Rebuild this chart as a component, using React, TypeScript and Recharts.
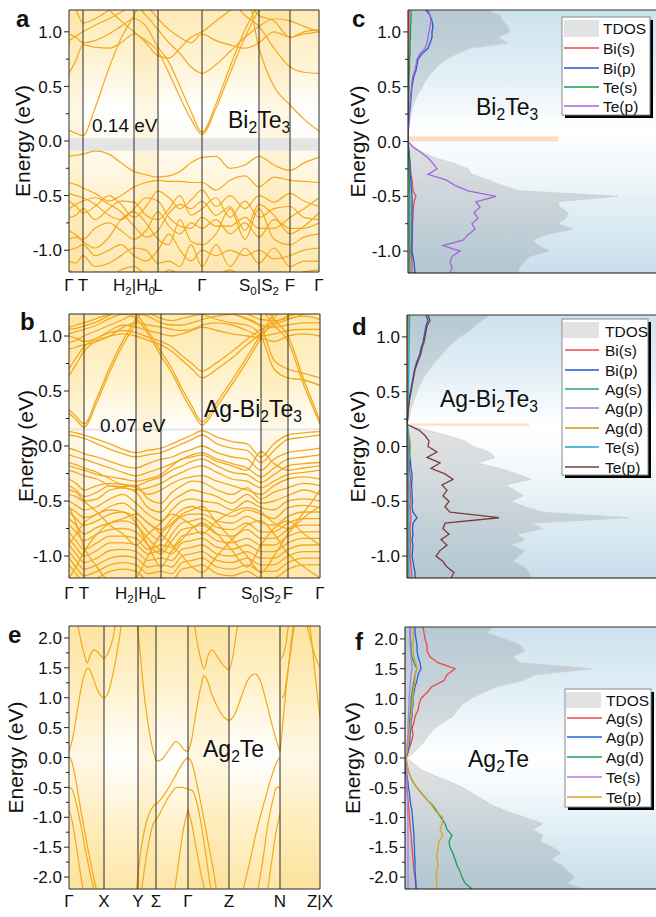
import React from 'react';
import {
  LineChart, Line, XAxis, YAxis, ReferenceLine, ReferenceArea, CartesianGrid, ComposedChart, Area,
} from 'recharts';

const FONT = '"Liberation Sans", Arial, Helvetica, sans-serif';
const ORANGE = '#F4A81C';
const FRAME = '#2b2b2b';

// ---------- common tick values ----------
const yTicksSmall = [-1.0, -0.75, -0.5, -0.25, 0, 0.25, 0.5, 0.75, 1.0];
const yTicksLarge = [-2.0, -1.75, -1.5, -1.25, -1.0, -0.75, -0.5, -0.25, 0, 0.25, 0.5, 0.75, 1.0, 1.25, 1.5, 1.75, 2.0];

// ---------- panel a: Bi2Te3 bands ----------
const kTicksA = [0, 14, 65, 89, 133, 190, 221, 250];
const kLabelsA = ['Γ', 'T', 'H2|H0', 'L', 'Γ', 'S0|S2', 'F', 'Γ'];
const kGridA = [0, 7, 14, 26, 40, 52, 65, 77, 89, 100, 111, 122, 133, 147, 161, 176, 190, 205, 221, 235, 250];
const bandsA: number[][] = [
  [0.10, 0.07, 0.05, 0.30, 0.67, 0.94, 1.15, 1.35, 1.4, 1.4, 1.4, 1.4, 1.4, 1.4, 1.4, 1.4, 1.4, 1.4, 1.4, 1.4, 1.4],
  [0.62, 0.74, 0.88, 0.86, 0.85, 0.90, 0.98, 0.92, 0.82, 0.62, 0.40, 0.20, 0.06, 0.30, 0.62, 0.95, 1.20, 1.35, 1.4, 1.4, 1.4],
  [0.98, 0.95, 0.90, 0.92, 0.98, 1.05, 1.12, 1.05, 0.86, 0.72, 0.50, 0.27, 0.08, 0.34, 0.68, 1.02, 1.25, 1.4, 1.4, 1.4, 1.4],
  [0.92, 0.96, 1.00, 1.06, 1.12, 1.18, 1.25, 1.15, 1.02, 0.90, 0.80, 0.68, 0.62, 0.70, 0.82, 0.95, 1.05, 1.12, 1.10, 1.05, 1.00],
  [1.30, 1.20, 1.08, 1.12, 1.20, 1.30, 1.35, 1.25, 1.12, 1.02, 0.95, 0.90, 0.98, 0.92, 0.88, 0.85, 0.90, 1.00, 0.95, 0.98, 1.00],
  [1.4, 1.4, 1.4, 1.4, 1.4, 1.4, 1.4, 1.4, 1.4, 1.4, 1.4, 1.4, 1.4, 1.4, 1.4, 1.4, 0.85, 0.50, 0.33, 0.20, 0.09],
  [1.4, 1.4, 1.4, 1.4, 1.4, 1.4, 1.4, 1.4, 1.4, 1.4, 1.4, 1.4, 1.4, 1.4, 1.3, 1.15, 1.05, 0.85, 0.68, 0.63, 0.62],
  [1.4, 1.4, 1.4, 1.4, 1.4, 1.4, 1.4, 1.4, 1.4, 1.4, 1.4, 1.4, 1.4, 1.4, 1.4, 1.3, 1.15, 1.10, 0.95, 1.00, 1.02],
  [1.4, 1.4, 1.4, 1.3, 1.2, 1.1, 1.0, 0.9, 0.78, 0.76, 0.85, 0.95, 1.0, 1.1, 1.2, 1.35, 1.4, 1.4, 1.4, 1.4, 1.4],
  [-0.14, -0.13, -0.12, -0.09, -0.12, -0.20, -0.28, -0.31, -0.33, -0.32, -0.28, -0.20, -0.15, -0.14, -0.25, -0.22, -0.14, -0.22, -0.27, -0.20, -0.15],
  [-0.38, -0.40, -0.43, -0.48, -0.55, -0.50, -0.42, -0.38, -0.36, -0.37, -0.37, -0.38, -0.38, -0.45, -0.36, -0.32, -0.42, -0.33, -0.36, -0.37, -0.38],
  [-0.55, -0.60, -0.66, -0.60, -0.50, -0.58, -0.70, -0.60, -0.46, -0.52, -0.62, -0.54, -0.45, -0.60, -0.50, -0.62, -0.50, -0.56, -0.48, -0.55, -0.60],
  [-0.70, -0.68, -0.62, -0.72, -0.62, -0.55, -0.56, -0.68, -0.72, -0.62, -0.50, -0.68, -0.62, -0.52, -0.70, -0.55, -0.70, -0.62, -0.60, -0.70, -0.72],
  [-0.82, -0.86, -0.90, -0.80, -0.75, -0.82, -0.90, -0.82, -0.65, -0.78, -0.85, -0.75, -0.80, -0.72, -0.85, -0.75, -0.88, -0.72, -0.80, -0.80, -0.75],
  [-0.90, -0.88, -0.92, -0.98, -0.88, -0.72, -0.65, -0.75, -0.90, -0.95, -0.72, -0.92, -0.95, -0.85, -0.62, -0.90, -0.62, -0.90, -0.95, -0.88, -0.85],
  [-1.00, -0.98, -0.95, -1.05, -1.00, -0.95, -1.05, -1.10, -1.00, -0.85, -1.00, -1.10, -1.00, -1.05, -1.00, -1.05, -1.00, -1.08, -1.05, -1.00, -0.98],
  [-1.10, -1.12, -1.05, -1.15, -1.12, -1.05, -0.98, -1.00, -1.12, -1.10, -1.15, -0.95, -1.15, -0.95, -1.15, -0.98, -1.12, -0.98, -1.15, -1.10, -1.10],
  [-1.18, -1.22, -1.25, -1.20, -1.25, -1.18, -1.15, -1.22, -1.25, -1.18, -1.22, -1.25, -1.20, -1.22, -1.18, -1.25, -1.22, -1.20, -1.25, -1.20, -1.18],
  [-0.48, -0.50, -0.52, -0.58, -0.68, -0.72, -0.62, -0.52, -0.55, -0.70, -0.78, -0.80, -0.70, -0.78, -0.78, -0.70, -0.80, -0.80, -0.70, -0.62, -0.52],
  [-0.62, -0.58, -0.55, -0.52, -0.58, -0.65, -0.78, -0.88, -0.82, -0.66, -0.58, -0.62, -0.55, -0.68, -0.60, -0.82, -0.58, -0.68, -0.85, -0.78, -0.66],
];

// ---------- panel b: Ag-Bi2Te3 bands ----------
const kTicksB = [0, 15, 67, 92, 133, 192, 219, 251];
const kLabelsB = ['Γ', 'T', 'H2|H0', 'L', 'Γ', 'S0|S2', 'F', 'Γ'];
const kGridB = [0, 7, 15, 28, 41, 54, 67, 79, 92, 103, 113, 123, 133, 148, 163, 178, 192, 205, 219, 235, 251];
const bandsB: number[][] = [
  [0.30, 0.24, 0.17, 0.40, 0.68, 0.92, 1.12, 1.35, 1.4, 1.4, 1.4, 1.4, 1.4, 1.4, 1.4, 1.4, 1.4, 1.4, 1.4, 1.4, 1.4],
  [0.33, 0.27, 0.20, 0.44, 0.72, 0.96, 1.16, 1.38, 1.4, 1.4, 1.4, 1.4, 1.4, 1.4, 1.4, 1.4, 1.4, 1.4, 1.4, 1.4, 1.4],
  [1.02, 1.04, 1.06, 1.10, 1.16, 1.20, 1.16, 1.02, 0.82, 0.66, 0.48, 0.32, 0.19, 0.36, 0.56, 0.77, 0.98, 1.16, 1.30, 1.4, 1.4],
  [1.06, 1.07, 1.09, 1.13, 1.19, 1.24, 1.20, 1.05, 0.86, 0.70, 0.52, 0.36, 0.22, 0.40, 0.60, 0.81, 1.02, 1.20, 1.35, 1.4, 1.4],
  [0.64, 0.74, 0.86, 0.96, 1.00, 1.02, 1.00, 0.96, 0.92, 0.86, 0.78, 0.70, 0.62, 0.70, 0.80, 0.92, 1.02, 1.10, 1.15, 1.20, 1.25],
  [0.70, 0.80, 0.90, 0.98, 1.03, 1.05, 1.03, 0.99, 0.95, 0.90, 0.82, 0.75, 0.68, 0.76, 0.86, 0.97, 1.06, 1.12, 1.18, 1.22, 1.28],
  [1.4, 1.4, 1.4, 1.4, 1.4, 1.4, 1.4, 1.4, 1.4, 1.4, 1.30, 1.25, 1.20, 1.15, 1.12, 1.10, 1.00, 0.70, 0.62, 0.60, 0.55],
  [1.4, 1.4, 1.4, 1.4, 1.4, 1.4, 1.4, 1.4, 1.4, 1.4, 1.4, 1.35, 1.30, 1.25, 1.20, 1.16, 1.08, 0.78, 0.70, 0.66, 0.62],
  [1.4, 1.4, 1.4, 1.4, 1.4, 1.4, 1.4, 1.4, 1.4, 1.4, 1.4, 1.4, 1.4, 1.4, 1.4, 1.35, 1.25, 1.10, 0.95, 0.55, 0.20],
  [1.4, 1.4, 1.4, 1.4, 1.4, 1.4, 1.4, 1.4, 1.4, 1.4, 1.4, 1.4, 1.4, 1.4, 1.4, 1.4, 1.30, 1.15, 1.00, 0.60, 0.23],
  [1.00, 0.98, 0.95, 0.98, 1.05, 1.10, 1.08, 1.05, 1.02, 1.00, 1.02, 1.05, 1.08, 1.05, 1.02, 1.00, 0.98, 0.95, 1.00, 1.02, 1.00],
  [0.88, 0.90, 0.92, 0.95, 1.00, 1.08, 1.12, 1.10, 1.08, 1.06, 1.05, 1.06, 1.10, 1.12, 1.10, 1.05, 1.00, 1.02, 1.05, 1.06, 1.06],
  [0.94, 0.96, 1.00, 1.05, 1.10, 1.15, 1.20, 1.18, 1.12, 1.10, 1.10, 1.12, 1.15, 1.18, 1.20, 1.15, 1.10, 1.08, 1.10, 1.12, 1.12],
  [1.08, 1.10, 1.12, 1.16, 1.20, 1.25, 1.30, 1.22, 1.16, 1.14, 1.16, 1.18, 1.20, 1.22, 1.25, 1.20, 1.15, 1.14, 1.16, 1.18, 1.15],
  [0.13, 0.12, 0.10, 0.06, 0.02, -0.03, -0.06, -0.04, -0.02, 0.02, 0.06, 0.10, 0.14, 0.08, 0.04, 0.02, -0.10, 0.02, 0.10, 0.12, 0.13],
  [0.10, 0.09, 0.07, 0.02, -0.03, -0.07, -0.10, -0.08, -0.06, -0.02, 0.02, 0.06, 0.10, 0.02, -0.02, -0.04, -0.15, -0.04, 0.06, 0.08, 0.10],
  [-0.02, -0.04, -0.07, -0.10, -0.14, -0.18, -0.20, -0.16, -0.12, -0.10, -0.06, -0.03, 0.00, -0.06, -0.10, -0.12, -0.22, -0.12, -0.06, -0.04, -0.02],
  [-0.08, -0.10, -0.12, -0.16, -0.20, -0.24, -0.27, -0.24, -0.20, -0.16, -0.12, -0.08, -0.06, -0.12, -0.16, -0.20, -0.28, -0.20, -0.12, -0.10, -0.08],
  [-0.15, -0.17, -0.20, -0.24, -0.30, -0.35, -0.36, -0.32, -0.28, -0.22, -0.18, -0.14, -0.12, -0.18, -0.24, -0.26, -0.33, -0.26, -0.18, -0.16, -0.15],
  [-0.22, -0.24, -0.27, -0.30, -0.36, -0.38, -0.40, -0.38, -0.34, -0.28, -0.24, -0.20, -0.18, -0.24, -0.30, -0.32, -0.38, -0.32, -0.26, -0.24, -0.22],
  [-0.30, -0.34, -0.40, -0.36, -0.34, -0.35, -0.38, -0.44, -0.40, -0.34, -0.30, -0.28, -0.27, -0.32, -0.36, -0.40, -0.44, -0.36, -0.30, -0.28, -0.30],
  [-0.36, -0.40, -0.46, -0.42, -0.36, -0.37, -0.36, -0.48, -0.52, -0.42, -0.36, -0.32, -0.33, -0.40, -0.44, -0.38, -0.48, -0.42, -0.38, -0.34, -0.36],
  [-0.44, -0.46, -0.50, -0.48, -0.40, -0.38, -0.42, -0.56, -0.60, -0.50, -0.44, -0.40, -0.42, -0.46, -0.52, -0.44, -0.52, -0.50, -0.45, -0.40, -0.44],
  [-0.50, -0.54, -0.58, -0.55, -0.48, -0.44, -0.52, -0.62, -0.68, -0.58, -0.50, -0.48, -0.50, -0.52, -0.58, -0.50, -0.56, -0.58, -0.50, -0.48, -0.50],
  [-0.56, -0.60, -0.65, -0.62, -0.55, -0.52, -0.60, -0.70, -0.76, -0.66, -0.58, -0.55, -0.58, -0.60, -0.64, -0.58, -0.62, -0.66, -0.56, -0.54, -0.56],
  [-0.60, -0.66, -0.72, -0.68, -0.62, -0.60, -0.66, -0.78, -0.86, -0.72, -0.64, -0.62, -0.62, -0.68, -0.70, -0.64, -0.70, -0.72, -0.64, -0.60, -0.60],
  [-0.66, -0.72, -0.80, -0.74, -0.70, -0.68, -0.72, -0.84, -0.94, -0.80, -0.70, -0.68, -0.66, -0.74, -0.76, -0.70, -0.78, -0.78, -0.70, -0.66, -0.66],
  [-0.72, -0.78, -0.86, -0.80, -0.76, -0.75, -0.78, -0.90, -0.98, -0.86, -0.76, -0.74, -0.72, -0.80, -0.82, -0.76, -0.84, -0.84, -0.76, -0.72, -0.72],
  [-0.78, -0.86, -0.94, -0.88, -0.82, -0.82, -0.84, -0.94, -0.90, -0.92, -0.82, -0.80, -0.78, -0.86, -0.88, -0.84, -0.90, -0.90, -0.82, -0.78, -0.78],
  [-0.84, -0.92, -1.00, -0.95, -0.88, -0.88, -0.90, -0.98, -0.95, -0.98, -0.88, -0.86, -0.84, -0.92, -0.94, -0.90, -0.96, -0.96, -0.88, -0.84, -0.84],
  [-0.90, -0.98, -1.06, -1.02, -0.95, -0.94, -0.96, -1.04, -1.02, -1.04, -0.94, -0.92, -0.90, -0.98, -1.00, -0.96, -1.02, -1.02, -0.94, -0.90, -0.90],
  [-0.96, -1.04, -1.12, -1.08, -1.02, -1.00, -1.02, -1.10, -1.08, -1.10, -1.00, -0.98, -0.96, -1.04, -1.06, -1.02, -1.08, -1.08, -1.00, -0.96, -0.96],
  [-1.02, -1.10, -1.18, -1.14, -1.08, -1.06, -1.08, -1.16, -1.14, -1.16, -1.06, -1.04, -1.02, -1.10, -1.12, -1.08, -1.14, -1.14, -1.06, -1.02, -1.02],
  [-1.08, -1.16, -1.24, -1.20, -1.14, -1.12, -1.14, -1.22, -1.20, -1.22, -1.12, -1.10, -1.08, -1.16, -1.18, -1.14, -1.20, -1.20, -1.12, -1.08, -1.08],
  [-0.55, -0.70, -0.92, -1.10, -1.25, -1.30, -1.20, -1.00, -0.80, -0.70, -0.62, -0.58, -0.55, -0.70, -0.85, -1.00, -1.15, -1.00, -0.80, -0.65, -0.55],
  [-0.90, -0.80, -0.70, -0.62, -0.58, -0.60, -0.70, -0.90, -1.10, -0.95, -0.85, -0.75, -0.70, -0.80, -0.95, -1.10, -0.90, -0.75, -0.68, -0.80, -0.90],
  [-1.20, -1.10, -0.96, -0.80, -0.70, -0.66, -0.62, -0.70, -0.80, -0.90, -1.00, -1.10, -1.15, -1.00, -0.85, -0.72, -0.68, -0.80, -0.98, -1.10, -1.20],
  [-0.40, -0.42, -0.50, -0.60, -0.72, -0.80, -0.90, -0.80, -0.70, -0.62, -0.66, -0.72, -0.80, -0.68, -0.60, -0.56, -0.60, -0.70, -0.75, -0.60, -0.40],
  [-0.18, -0.20, -0.22, -0.26, -0.28, -0.30, -0.32, -0.30, -0.26, -0.18, -0.12, -0.10, -0.08, -0.14, -0.18, -0.22, -0.05, -0.16, -0.22, -0.20, -0.18],
];

// ---------- panel e: Ag2Te bands (k, E) ----------
const kTicksE = [0, 35, 69, 87, 119, 160, 211, 251];
const kLabelsE = ['Γ', 'X', 'Y', 'Σ', 'Γ', 'Z', 'N', 'Z|X'];
const bandsE: number[][][] = [
  [[0, 0.1], [4, 0.35], [8, 0.75], [12, 1.15], [16, 1.42], [19, 1.5], [23, 1.38], [28, 1.15], [32, 1.03], [35, 1.0], [39, 1.08], [44, 1.4], [49, 1.85], [53, 2.3]],
  [[8, 2.3], [12, 1.95], [16, 1.68], [18, 1.58], [21, 1.7], [25, 1.8], [29, 1.76], [33, 1.68], [35, 1.66], [39, 1.75], [44, 2.0], [47, 2.3]],
  [[0, 0.02], [3, -0.08], [7, -0.4], [12, -0.9], [18, -1.45], [24, -1.95], [28, -2.25]],
  [[0, -0.5], [3, -0.53], [7, -0.75], [12, -1.15], [17, -1.6], [22, -2.0], [26, -2.3]],
  [[0, -0.88], [3, -1.05], [7, -1.45], [11, -1.9], [14, -2.2], [15, -2.3]],
  [[68.5, 2.3], [69, 2.15], [71.5, 1.7], [74, 1.23], [79, 0.57], [84, 0.12], [88, -0.06], [93, -0.03], [98, 0.08], [103, 0.2], [107, 0.27], [111, 0.22], [115, 0.13], [119, 0.1]],
  [[67, -2.3], [70, -1.8], [75, -1.25], [80, -0.95], [85, -0.8], [88, -0.77], [96, -0.6], [104, -0.38], [111, -0.17], [116, -0.04], [119, 0.0]],
  [[72, -2.3], [76, -1.8], [80, -1.4], [84, -1.12], [88, -1.02], [95, -0.8], [102, -0.6], [108, -0.5], [113, -0.5], [119, -0.53]],
  [[105, -2.3], [110, -1.7], [115, -1.15], [119, -0.88]],
  [[119, 0.1], [122, 0.25], [127, 0.75], [132, 1.2], [135, 1.37], [138, 1.3], [143, 1.05], [150, 0.8], [156, 0.66], [160, 0.62], [165, 0.7], [172, 1.0], [179, 1.3], [186, 1.4], [191, 1.3], [197, 0.95], [203, 0.55], [208, 0.25], [211, 0.1]],
  [[125, 2.3], [127, 2.05], [131, 1.7], [135, 1.48], [139, 1.7], [143, 1.8], [147, 1.72], [153, 1.57], [160, 1.47], [164, 1.7], [168, 2.15], [170, 2.3]],
  [[119, 0.0], [123, -0.1], [128, -0.45], [134, -0.95], [140, -1.5], [146, -2.05], [148, -2.3]],
  [[119, -0.53], [123, -0.55], [127, -0.7], [132, -1.1], [137, -1.65], [141, -2.1], [143, -2.3]],
  [[119, -0.88], [122, -1.05], [127, -1.5], [132, -1.95], [137, -2.3]],
  [[173, -2.3], [180, -1.8], [188, -1.2], [196, -0.7], [203, -0.3], [208, -0.07], [211, 0.0]],
  [[188, -2.3], [194, -1.7], [199, -1.1], [204, -0.7], [207, -0.52], [209, -0.49], [211, -0.52]],
  [[198, -2.3], [203, -1.7], [207, -1.25], [211, -0.95]],
  [[211, 0.1], [214, 0.6], [218, 1.3], [222, 1.9], [225, 2.3]],
  [[213, 1.0], [215, 1.05], [218, 1.35], [222, 1.8], [226, 2.3]],
  [[212, 1.65], [214, 1.7], [217, 1.9], [220, 2.3]],
  [[237, 2.3], [241, 2.0], [246, 1.7], [251, 1.5]],
  [[240, 2.3], [243, 1.9], [246, 1.4], [249, 0.95], [251, 0.68]],
];

// ---------- panels c, d: DOS (energy grid) ----------
const eCD = [1.2, 1.15, 1.1, 1.05, 1.0, 0.95, 0.9, 0.85, 0.8, 0.75, 0.7, 0.65, 0.6, 0.55, 0.5, 0.45, 0.4, 0.35, 0.3, 0.25, 0.2, 0.15, 0.1, 0.05, 0, -0.05, -0.1, -0.15, -0.2, -0.25, -0.3, -0.35, -0.4, -0.45, -0.5, -0.55, -0.6, -0.65, -0.7, -0.75, -0.8, -0.85, -0.9, -0.95, -1.0, -1.05, -1.1, -1.15, -1.2];

const tdosC = [80, 92, 95, 100, 102, 90, 100, 62, 49, 38, 31, 26, 21, 17, 14, 11, 8, 6, 4, 3, 2, 1, 0.5, 0.2, 0, 6, 15, 27, 46, 60, 64, 80, 93, 110, 210, 150, 152, 160, 158, 150, 165, 138, 125, 130, 142, 122, 116, 112, 110];
const biS_C = [1, 1, 1, 1, 1, 1, 1, 1, 1, 0.8, 0.8, 0.6, 0.6, 0.5, 0.5, 0.4, 0.4, 0.3, 0.3, 0.2, 0.2, 0.1, 0.1, 0.1, 0, 0.5, 1, 1.5, 2, 2.5, 3, 4, 4.5, 5, 8, 6, 5.5, 5, 5, 4.5, 4.5, 4, 4, 3.5, 3, 3.5, 4, 4, 4];
const biP_C = [18, 22, 24, 25, 24, 24, 22, 20, 14, 10, 9, 8, 6, 5, 4, 3.5, 3, 2.5, 2, 1.5, 1, 0.7, 0.4, 0.2, 0, 0.5, 1, 1.5, 2, 2, 2, 3, 3, 3.5, 4, 4, 4, 4, 4, 4, 4, 4, 4, 4, 4, 5, 6, 6.5, 7];
const teS_C = [3, 3, 3, 2.5, 2.5, 2.5, 2, 2, 2, 1.5, 1.5, 1.5, 1, 1, 1, 0.8, 0.8, 0.6, 0.5, 0.4, 0.3, 0.2, 0.1, 0.1, 0, 0.3, 0.5, 0.8, 1, 1, 1.2, 1.5, 1.5, 1.5, 1.8, 1.8, 1.8, 1.8, 1.8, 1.8, 1.8, 1.8, 1.8, 1.8, 1.8, 1.8, 1.8, 1.8, 1.8];
const teP_C = [20, 22, 23, 22, 21, 20, 19, 17, 12, 9, 8, 7, 5, 4, 3.5, 3, 2.5, 2, 1.5, 1, 0.8, 0.5, 0.3, 0.1, 0, 5, 13, 20, 25, 29, 20, 38, 47, 60, 88, 68, 72, 66, 70, 64, 67, 60, 55, 35, 52, 44, 42, 44, 42];

const tdosD = [82, 75, 68, 62, 53, 46, 40, 36, 31, 26, 22, 18, 15, 12, 10, 8, 6, 4, 3, 1.5, 0, 19, 40, 58, 66, 82, 88, 70, 92, 110, 124, 98, 108, 116, 104, 118, 136, 222, 124, 136, 110, 118, 104, 118, 112, 106, 118, 122, 124];
const biS_D = [0.8, 0.8, 0.8, 0.7, 0.7, 0.6, 0.6, 0.5, 0.5, 0.5, 0.4, 0.4, 0.3, 0.3, 0.3, 0.2, 0.2, 0.1, 0.1, 0.1, 0, 0.5, 1, 1.5, 1.5, 2, 2, 2.5, 2.5, 3, 3.5, 3, 3, 3.5, 3.5, 3, 3.5, 4, 3.5, 3, 3.5, 3, 3.5, 3, 3, 3.5, 4, 4.5, 4.5];
const biP_D = [19, 21, 19, 18, 17, 16, 14, 13, 11, 9, 7.5, 6.5, 5.5, 4.5, 3.5, 2.5, 2, 1.3, 0.8, 0.4, 0, 1, 1.5, 2, 2, 2.5, 3, 3.5, 4, 5, 5, 4.5, 5, 5, 5.5, 5, 6, 10, 6, 5.5, 6, 5, 6, 5.5, 5, 6, 7, 8, 8];
const agS_D = [0.6, 0.6, 0.6, 0.6, 0.6, 0.6, 0.5, 0.5, 0.5, 0.5, 0.5, 0.4, 0.4, 0.4, 0.4, 0.3, 0.3, 0.3, 0.2, 0.2, 0, 0.3, 0.4, 0.5, 0.5, 0.5, 0.6, 0.6, 0.6, 0.6, 0.7, 0.7, 0.7, 0.7, 0.7, 0.7, 0.7, 0.9, 0.7, 0.7, 0.7, 0.7, 0.7, 0.7, 0.7, 0.7, 0.7, 0.8, 0.8];
const agP_D = [0.5, 0.5, 0.5, 0.5, 0.4, 0.4, 0.4, 0.4, 0.4, 0.3, 0.3, 0.3, 0.3, 0.3, 0.2, 0.2, 0.2, 0.2, 0.1, 0.1, 0, 0.2, 0.3, 0.4, 0.4, 0.4, 0.5, 0.5, 0.5, 0.5, 0.5, 0.5, 0.5, 0.5, 0.5, 0.5, 0.5, 0.8, 0.5, 0.5, 0.5, 0.5, 0.5, 0.5, 0.5, 0.5, 0.5, 0.6, 0.6];
const agD_D = [0.8, 0.8, 0.8, 0.7, 0.7, 0.7, 0.6, 0.6, 0.6, 0.5, 0.5, 0.5, 0.4, 0.4, 0.4, 0.3, 0.3, 0.3, 0.2, 0.2, 0, 1.0, 2.0, 3.0, 3.5, 3.0, 2.5, 1.5, 1.2, 1.2, 1.2, 1.0, 1.0, 1.0, 1.0, 1.0, 1.2, 1.5, 1.0, 1.0, 1.0, 1.0, 1.0, 1.0, 1.0, 1.0, 1.0, 1.2, 1.2];
const teS_D = [2.5, 2.5, 2.5, 2.4, 2.3, 2.2, 2.1, 2, 2, 1.9, 1.8, 1.7, 1.6, 1.5, 1.4, 1.3, 1.2, 1.1, 1, 0.8, 0, 1, 1.3, 1.5, 1.5, 1.6, 1.6, 1.6, 1.7, 1.7, 1.7, 1.7, 1.7, 1.8, 1.8, 1.8, 1.8, 2, 1.8, 1.8, 1.8, 1.8, 1.8, 1.8, 1.8, 1.8, 1.8, 1.9, 1.9];
const teP_D = [21, 23, 20, 19, 18, 17, 15, 14, 12, 10, 8, 7, 6, 5, 4, 3, 2, 1.5, 1, 0.5, 0, 12, 18, 22, 21, 30, 20, 33, 24, 38, 46, 35, 40, 36, 42, 38, 43, 92, 38, 36, 42, 34, 40, 33, 29, 36, 40, 47, 44];

// ---------- panel f: Ag2Te DOS ----------
const eF = [2.2, 2.1, 2.0, 1.9, 1.8, 1.7, 1.6, 1.5, 1.4, 1.3, 1.2, 1.1, 1.0, 0.9, 0.8, 0.7, 0.6, 0.5, 0.4, 0.3, 0.2, 0.1, 0.0, -0.1, -0.2, -0.3, -0.4, -0.5, -0.6, -0.7, -0.8, -0.9, -1.0, -1.1, -1.2, -1.3, -1.4, -1.5, -1.6, -1.7, -1.8, -1.9, -2.0, -2.1, -2.2];
const tdosF = [88, 82, 100, 115, 120, 108, 115, 188, 130, 118, 92, 78, 66, 57, 52, 48, 38, 30, 24, 20, 15, 9, 2, 9, 16, 30, 45, 58, 68, 78, 88, 102, 120, 138, 128, 138, 135, 148, 156, 146, 157, 163, 170, 163, 178];
const agS_F = [18, 19, 20, 22, 22, 25, 33, 50, 42, 39, 27, 22, 16, 14, 13, 10, 9, 7, 8, 7, 5, 3, 1, 0.5, 0.5, 1, 1.5, 2, 2.5, 3, 3.5, 4, 4.5, 5, 5.5, 6, 6.5, 7, 7.5, 8, 8.5, 9, 10, 10.5, 11];
const agP_F = [10, 10, 11, 12, 12, 13, 15, 16, 13, 12, 10, 9, 8, 8, 7, 7, 6, 6, 5, 5, 4, 3, 1, 1, 1.5, 2, 3, 3.5, 4.5, 5, 6, 7, 7.5, 8, 8.5, 9, 9, 9.5, 9.5, 10, 10, 10, 10.5, 11, 11];
const agD_F = [5, 5, 5.5, 6, 6, 7, 9, 12, 10, 9, 8, 7, 6, 6, 5.5, 5, 4.5, 4, 3.5, 3, 2.5, 2, 1, 2, 3, 5, 8, 12, 17, 22, 28, 32, 36, 40, 42, 47, 44, 45, 48, 50, 52, 55, 57, 60, 67];
const teS_F = [5, 5, 5, 5, 5.5, 6, 6.5, 7, 6, 5.5, 5, 4.5, 4, 4, 3.5, 3.5, 3, 3, 3, 2.5, 2, 1.5, 1, 1, 1.5, 1.5, 2, 2, 2, 2.5, 2.5, 2.5, 3, 3, 3, 3, 3, 3, 3, 3, 3, 3, 3, 3, 3];
const teP_F = [8, 8, 8.5, 8, 8, 9, 11, 12, 10, 10, 9, 8, 8, 7, 7, 6, 5.5, 5, 4, 3.5, 3, 2, 1, 2, 3, 5, 8, 12, 17, 22, 27, 31, 38, 37, 35, 38, 34, 33, 32, 32, 33, 32, 31, 32, 31];

type Series = { key: string; name: string; color: string; values: number[] };

const seriesC: Series[] = [
  { key: 'bis', name: 'Bi(s)', color: '#f24646', values: biS_C },
  { key: 'bip', name: 'Bi(p)', color: '#1f58d0', values: biP_C },
  { key: 'tes', name: 'Te(s)', color: '#13a050', values: teS_C },
  { key: 'tep', name: 'Te(p)', color: '#a663d9', values: teP_C },
];
const seriesD: Series[] = [
  { key: 'bis', name: 'Bi(s)', color: '#f24646', values: biS_D },
  { key: 'bip', name: 'Bi(p)', color: '#1f58d0', values: biP_D },
  { key: 'ags', name: 'Ag(s)', color: '#2aa070', values: agS_D },
  { key: 'agp', name: 'Ag(p)', color: '#a77ad9', values: agP_D },
  { key: 'agd', name: 'Ag(d)', color: '#d9900f', values: agD_D },
  { key: 'tes', name: 'Te(s)', color: '#17a8cf', values: teS_D },
  { key: 'tep', name: 'Te(p)', color: '#7b3b3b', values: teP_D },
];
const seriesF: Series[] = [
  { key: 'ags', name: 'Ag(s)', color: '#f24646', values: agS_F },
  { key: 'agp', name: 'Ag(p)', color: '#1f64dc', values: agP_F },
  { key: 'agd', name: 'Ag(d)', color: '#1e9a5a', values: agD_F },
  { key: 'tes', name: 'Te(s)', color: '#b57ae3', values: teS_F },
  { key: 'tep', name: 'Te(p)', color: '#e0a028', values: teP_F },
];

const buildRows = (es: number[], tdos: number[], series: Series[]) =>
  es.map((e, i) => {
    const r: Record<string, number> = { e, tdos: tdos[i] };
    series.forEach((s) => { r[s.key] = s.values[i]; });
    return r;
  });

// ---------- text helpers ----------
function richParts(text: string, size: number) {
  const parts = text.split(/(\d+)/).filter((p) => p !== '');
  const shift = Math.round(size * 0.22);
  let down = false;
  return parts.map((p, i) => {
    if (/^\d+$/.test(p)) {
      const el = <tspan key={i} fontSize={size * 0.68} dy={down ? 0 : shift}>{p}</tspan>;
      down = true;
      return el;
    }
    const el = <tspan key={i} dy={down ? -shift : 0}>{p}</tspan>;
    down = false;
    return el;
  });
}

const YTick = (props: any) => {
  const { x, y, payload } = props;
  const v = payload.value as number;
  const major = Math.abs(v * 2 - Math.round(v * 2)) < 1e-6;
  return (
    <g>
      <line x1={x - (major ? 5 : 3)} x2={x} y1={y} y2={y} stroke="#222" strokeWidth={1} />
      {major && (
        <text x={x - 7} y={y} dy="0.36em" textAnchor="end" fontSize={17} fontFamily={FONT} fill="#111">
          {v.toFixed(1)}
        </text>
      )}
    </g>
  );
};

const makeKTick = (ticks: number[], labels: string[], dy: number) => (props: any) => {
  const { x, y, payload } = props;
  const i = ticks.indexOf(payload.value);
  const lab = i >= 0 ? labels[i] : '';
  return (
    <text x={x} y={y + dy} textAnchor="middle" fontSize={17} fontFamily={FONT} fill="#111">
      {richParts(lab, 17)}
    </text>
  );
};

const axisLabel = (offset: number) => ({
  value: 'Energy (eV)',
  angle: -90,
  position: 'insideLeft' as const,
  offset,
  style: { textAnchor: 'middle' as const, fontSize: 21, fontFamily: FONT, fill: '#111' },
});

// ---------- band panel ----------
const BAND_W = 345;
type BandProps = {
  top: number; height: number; mt: number; xh: number; kMax: number;
  kTicks: number[]; kLabels: string[]; yLo: number; yHi: number; yTicks: number[];
  bgId: string; stripes: number[][]; gap?: number[]; labelOffset: number; tickDy: number;
  lines: { k: number; e: number }[][]; strokeW: number;
};

const BandPanel = (p: BandProps) => (
  <div style={{ position: 'absolute', left: 0, top: p.top }}>
    <LineChart width={BAND_W} height={p.height} margin={{ top: p.mt, right: BAND_W - 69 - p.kMax, bottom: 0, left: 0 }}>
      <CartesianGrid horizontal={false} vertical={false} fill={`url(#${p.bgId})`} fillOpacity={1} />
      <XAxis
        type="number" dataKey="k" domain={[0, p.kMax]} allowDataOverflow ticks={p.kTicks} interval={0}
        tickLine={false} tickSize={0} tickMargin={0} height={p.xh} axisLine={{ stroke: FRAME }}
        tick={makeKTick(p.kTicks, p.kLabels, p.tickDy)}
      />
      <YAxis
        type="number" domain={[p.yLo, p.yHi]} allowDataOverflow ticks={p.yTicks} interval={0} width={69}
        tickLine={false} tickSize={0} tickMargin={0} axisLine={{ stroke: FRAME }} tick={YTick}
        label={axisLabel(p.labelOffset)}
      />
      {p.stripes.map(([a, b], i) => (
        <ReferenceArea key={`s${i}`} x1={a} x2={b} y1={p.yLo} y2={p.yHi} fill="#f6cc58" fillOpacity={0.14} stroke="none" />
      ))}
      {p.gap && <ReferenceArea x1={0} x2={p.kMax} y1={p.gap[0]} y2={p.gap[1]} fill="#e4e4e4" fillOpacity={1} stroke="none" />}
      {p.lines.map((d, i) => (
        <Line
          key={`b${i}`} data={d} dataKey="e" type="monotone" stroke={ORANGE} strokeWidth={p.strokeW}
          dot={false} activeDot={false} isAnimationActive={false}
        />
      ))}
      {p.kTicks.slice(1, -1).map((k) => (
        <ReferenceLine key={`v${k}`} x={k} stroke={FRAME} strokeWidth={1} />
      ))}
      <ReferenceLine y={p.yHi} stroke={FRAME} strokeWidth={1} />
      <ReferenceLine x={p.kMax} stroke={FRAME} strokeWidth={1} />
    </LineChart>
  </div>
);

// ---------- DOS panel ----------
type DosProps = {
  top: number; height: number; mt: number; xh: number; yw: number; xMax: number;
  yLo: number; yHi: number; yTicks: number[]; bgId: string; labelOffset: number;
  rows: Record<string, number>[]; series: Series[]; marker?: number[]; markerColor?: string;
};

const DosPanel = (p: DosProps) => (
  <div style={{ position: 'absolute', left: 330, top: p.top }}>
    <ComposedChart layout="vertical" width={340} height={p.height} data={p.rows} margin={{ top: p.mt, right: 0, bottom: 0, left: 0 }}>
      <CartesianGrid horizontal={false} vertical={false} fill={`url(#${p.bgId})`} fillOpacity={1} />
      <XAxis type="number" domain={[0, p.xMax]} allowDataOverflow tick={false} tickLine={false} height={p.xh} axisLine={{ stroke: '#111' }} />
      <YAxis
        type="number" dataKey="e" domain={[p.yLo, p.yHi]} allowDataOverflow reversed ticks={p.yTicks} interval={0} width={p.yw}
        tickLine={false} tickSize={0} tickMargin={0} axisLine={{ stroke: '#111' }} tick={YTick}
        label={axisLabel(p.labelOffset)}
      />
      {p.marker && (
        <ReferenceArea x1={0} x2={p.marker[0]} y1={p.marker[1]} y2={p.marker[2]} fill={p.markerColor} fillOpacity={1} stroke="none" />
      )}
      <Area dataKey="tdos" type="linear" fill="#3c3c3c" fillOpacity={0.15} stroke="#cfcfcf" strokeWidth={0.8} isAnimationActive={false} dot={false} activeDot={false} />
      {p.series.map((s) => (
        <Line key={s.key} dataKey={s.key} type="linear" stroke={s.color} strokeWidth={1.3} dot={false} activeDot={false} isAnimationActive={false} />
      ))}
      <ReferenceLine y={p.yHi} stroke="#333" strokeWidth={1} />
    </ComposedChart>
  </div>
);

// ---------- overlay: legends, labels ----------
type LegendSpec = { x: number; y: number; w: number; h: number; rows: number[]; sw: number[]; tx: number; swBox: number[]; series: Series[] };

const LegendBox = ({ L }: { L: LegendSpec }) => (
  <g>
    <rect x={L.x + 3} y={L.y + 3} width={L.w} height={L.h} fill="#000" />
    <rect x={L.x} y={L.y} width={L.w} height={L.h} fill="#fff" stroke="#8a8a8a" strokeWidth={1} />
    <rect x={L.swBox[0]} y={L.swBox[1]} width={L.swBox[2]} height={L.swBox[3]} fill="#e2e2e2" />
    <text x={L.tx} y={L.rows[0] + 5.5} fontSize={15.5} fontFamily={FONT} fill="#111">TDOS</text>
    {L.series.map((s, i) => (
      <g key={s.key}>
        <line x1={L.sw[0]} x2={L.sw[1]} y1={L.rows[i + 1]} y2={L.rows[i + 1]} stroke={s.color} strokeWidth={1.6} />
        <text x={L.tx} y={L.rows[i + 1] + 5.5} fontSize={15.5} fontFamily={FONT} fill="#111">{s.name}</text>
      </g>
    ))}
  </g>
);

const legendC: LegendSpec = { x: 562, y: 17, w: 88, h: 98, rows: [28, 48, 68, 87, 106], sw: [564, 599], tx: 603, swBox: [564, 20, 35, 17], series: seriesC };
const legendD: LegendSpec = { x: 562, y: 319, w: 86, h: 156, rows: [331, 350, 370, 389, 408, 428, 447, 467], sw: [565, 599], tx: 605, swBox: [563, 322, 36, 16], series: seriesD };
const legendF: LegendSpec = { x: 565, y: 689, w: 86, h: 118, rows: [700, 718, 737, 757, 777, 797], sw: [567, 602], tx: 606, swBox: [566, 692, 35, 16], series: seriesF };

const RichText = ({ x, y, size, text, bold }: { x: number; y: number; size: number; text: string; bold?: boolean }) => (
  <text x={x} y={y} fontSize={size} fontFamily={FONT} fontWeight={bold ? 'bold' : 'normal'} fill="#111">
    {richParts(text, size)}
  </text>
);

const Grad = ({ id, stops }: { id: string; stops: [number, string][] }) => (
  <linearGradient id={id} x1="0" y1="0" x2="0" y2="1">
    {stops.map(([o, c], i) => <stop key={i} offset={o} stopColor={c} />)}
  </linearGradient>
);

const toPts = (grid: number[], vals: number[]) => grid.map((k, j) => ({ k, e: vals[j] }));
const pairPts = (pts: number[][]) => pts.map(([k, e]) => ({ k, e }));

export default function App() {
  const linesA = bandsA.map((b) => toPts(kGridA, b));
  const linesB = bandsB.map((b) => toPts(kGridB, b));
  const linesE = bandsE.map((b) => pairPts(b));
  const rowsC = buildRows(eCD, tdosC, seriesC);
  const rowsD = buildRows(eCD, tdosD, seriesD);
  const rowsF = buildRows(eF, tdosF, seriesF);

  return (
    <div style={{ position: 'absolute', left: 0, top: 0, width: 656, height: 917, overflow: 'hidden', background: '#fff', fontFamily: FONT }}>
      <svg width={0} height={0} style={{ position: 'absolute' }}>
        <defs>
          <Grad id="ybgA" stops={[[0, '#fdebb6'], [0.2, '#fef3d4'], [0.38, '#ffffff'], [0.52, '#fffbf2'], [0.75, '#fff1cc'], [1, '#fde8b2']]} />
          <Grad id="ybgB" stops={[[0, '#fde9b0'], [0.25, '#fff2cc'], [0.45, '#ffffff'], [0.56, '#fffbf1'], [0.8, '#fef0c8'], [1, '#fde7ae']]} />
          <Grad id="ybgE" stops={[[0, '#fde8ae'], [0.25, '#fff3d0'], [0.5, '#ffffff'], [0.75, '#fff2cc'], [1, '#fde6aa']]} />
          <Grad id="bbgC" stops={[[0, '#cce2ee'], [0.25, '#e2eff6'], [0.45, '#ffffff'], [0.6, '#f3f8fb'], [0.85, '#d6e8f1'], [1, '#c8dfeb']]} />
          <Grad id="bbgD" stops={[[0, '#cce2ee'], [0.22, '#e2eff6'], [0.42, '#ffffff'], [0.58, '#f3f8fb'], [0.85, '#d6e8f1'], [1, '#c8dfeb']]} />
          <Grad id="bbgF" stops={[[0, '#cce2ee'], [0.25, '#e2eff6'], [0.5, '#ffffff'], [0.62, '#f3f8fb'], [0.85, '#d6e8f1'], [1, '#c8dfeb']]} />
        </defs>
      </svg>

      <BandPanel top={0} height={300} mt={10} xh={28} kMax={250} kTicks={kTicksA} kLabels={kLabelsA}
        yLo={-1.2} yHi={1.2} yTicks={yTicksSmall} bgId="ybgA" stripes={[[0, 14], [65, 89], [190, 221]]}
        gap={[-0.09, 0.025]} labelOffset={22.5} tickDy={19} lines={linesA} strokeW={1.2} />
      <BandPanel top={300} height={310} mt={14} xh={32} kMax={251} kTicks={kTicksB} kLabels={kLabelsB}
        yLo={-1.2} yHi={1.2} yTicks={yTicksSmall} bgId="ybgB" stripes={[[0, 15], [67, 92], [192, 219]]}
        gap={[0.14, 0.16]} labelOffset={26} tickDy={21} lines={linesB} strokeW={1.3} />
      <BandPanel top={600} height={317} mt={26} xh={28} kMax={251} kTicks={kTicksE} kLabels={kLabelsE}
        yLo={-2.2} yHi={2.2} yTicks={yTicksLarge} bgId="ybgE" stripes={[[0, 35], [69, 87], [119, 160], [211, 251]]}
        labelOffset={16} tickDy={18} lines={linesE} strokeW={1.2} />

      <DosPanel top={0} height={300} mt={10} xh={27} yw={78} xMax={262} yLo={-1.2} yHi={1.2} yTicks={yTicksSmall}
        bgId="bbgC" labelOffset={28} rows={rowsC} series={seriesC} marker={[150, 0, 0.045]} markerColor="#fcdcc0" />
      <DosPanel top={300} height={300} mt={15} xh={22} yw={77} xMax={263} yLo={-1.2} yHi={1.2} yTicks={yTicksSmall}
        bgId="bbgD" labelOffset={28} rows={rowsD} series={seriesD} marker={[122, 0.19, 0.21]} markerColor="#fde2c2" />
      <DosPanel top={600} height={317} mt={27} xh={28} yw={75} xMax={265} yLo={-2.2} yHi={2.2} yTicks={yTicksLarge}
        bgId="bbgF" labelOffset={23} rows={rowsF} series={seriesF} />

      <svg width={656} height={917} style={{ position: 'absolute', left: 0, top: 0, pointerEvents: 'none' }}>
        <RichText x={16} y={27} size={24} bold text="a" />
        <RichText x={352} y={27} size={24} bold text="c" />
        <RichText x={20} y={330} size={24} bold text="b" />
        <RichText x={352} y={335} size={24} bold text="d" />
        <RichText x={8} y={643} size={24} bold text="e" />
        <RichText x={355} y={650} size={24} bold text="f" />

        <text x={92} y={132} fontSize={19} fontFamily={FONT} fill="#111">0.14 eV</text>
        <RichText x={228} y={128} size={23} text="Bi2Te3" />
        <text x={100} y={432} fontSize={19} fontFamily={FONT} fill="#111">0.07 eV</text>
        <RichText x={204} y={417} size={23} text="Ag-Bi2Te3" />
        <RichText x={476} y={115} size={23} text="Bi2Te3" />
        <RichText x={440} y={407} size={23} text="Ag-Bi2Te3" />
        <RichText x={203} y={757} size={23} text="Ag2Te" />
        <RichText x={468} y={767} size={23} text="Ag2Te" />

        <LegendBox L={legendC} />
        <LegendBox L={legendD} />
        <LegendBox L={legendF} />
      </svg>
    </div>
  );
}
